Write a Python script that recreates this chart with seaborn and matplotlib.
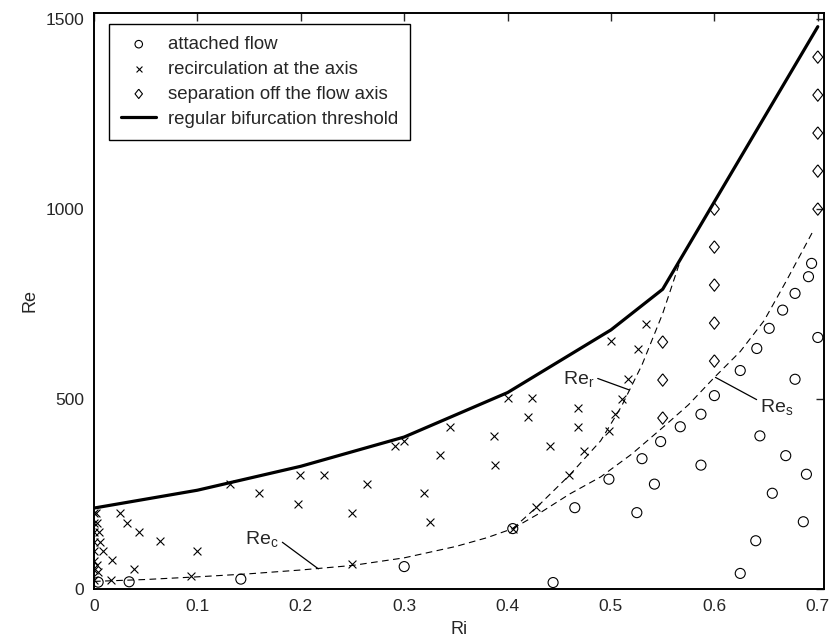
import numpy as np
import pandas as pd
import matplotlib
matplotlib.use("Agg")
import matplotlib.pyplot as plt
import seaborn as sns

# attached flow (circles)
attached_ri = [0.004, 0.034, 0.142, 0.300, 0.405, 0.444, 0.465, 0.498, 0.525, 0.530,
               0.542, 0.548, 0.567, 0.587, 0.587, 0.600, 0.625, 0.641, 0.653, 0.666,
               0.678, 0.691, 0.694, 0.700, 0.678, 0.644, 0.669, 0.689, 0.656, 0.686,
               0.640, 0.625]
attached_re = [18, 19, 26, 59, 159, 17, 214, 289, 201, 343,
               276, 388, 427, 460, 326, 509, 575, 633, 686, 734,
               778, 822, 857, 662, 552, 403, 351, 302, 252, 177,
               127, 41]

# recirculation at the axis (crosses)
recirc_ri = [0, 0, 0, 0, 0, 0, 0, 0,
             0.002, 0.003, 0.005, 0.006, 0.009, 0.004, 0.003,
             0.025, 0.032, 0.044, 0.064, 0.100, 0.017, 0.039, 0.016, 0.094,
             0.132, 0.160, 0.199, 0.222, 0.197, 0.264, 0.250, 0.291, 0.300,
             0.319, 0.325, 0.250, 0.400, 0.424, 0.420, 0.468, 0.468, 0.344,
             0.387, 0.335, 0.388, 0.441, 0.459, 0.427, 0.405, 0.474,
             0.500, 0.534, 0.526, 0.516, 0.511, 0.504, 0.498]
recirc_re = [25, 50, 75, 100, 125, 150, 175, 200,
             200, 175, 150, 125, 100, 45, 62,
             201, 175, 151, 126, 101, 76, 52, 25, 34,
             276, 252, 301, 301, 225, 276, 201, 376, 389,
             252, 176, 65, 502, 502, 452, 477, 427, 427,
             402, 352, 326, 376, 300, 217, 159, 363,
             653, 697, 631, 554, 500, 460, 416]

# separation off the flow axis (diamonds)
sep_ri = [0.55, 0.55, 0.55, 0.6, 0.6, 0.6, 0.6, 0.6, 0.7, 0.7, 0.7, 0.7, 0.7]
sep_re = [450, 550, 650, 600, 700, 800, 900, 1000, 1000, 1100, 1200, 1300, 1400]

# regular bifurcation threshold
thresh_ri = [0, 0.1, 0.2, 0.3, 0.4, 0.5, 0.55, 0.7]
thresh_re = [213, 260, 323, 400, 517, 682, 789, 1480]

# dashed curves Re_c, Re_r, Re_s
rec_ri = [0, 0.05, 0.1, 0.15, 0.2, 0.25, 0.3, 0.35, 0.38, 0.405]
rec_re = [20, 25, 32, 40, 50, 62, 82, 112, 135, 159]
rer_ri = [0.405, 0.43, 0.46, 0.49, 0.51, 0.53, 0.55, 0.568]
rer_re = [159, 220, 300, 390, 480, 590, 725, 872]
res_ri = [0.405, 0.43, 0.46, 0.49, 0.52, 0.55, 0.575, 0.6, 0.625, 0.648, 0.67, 0.696]
res_re = [159, 198, 250, 295, 355, 425, 485, 557, 625, 706, 813, 945]

xticks = [0, 0.1, 0.2, 0.3, 0.4, 0.5, 0.6, 0.7]
xtick_labels = ['0', '0.1', '0.2', '0.3', '0.4', '0.5', '0.6', '0.7']
yticks = [0, 500, 1000, 1500]

sns.set_style("white")
plt.rcParams['font.family'] = ['Liberation Sans', 'DejaVu Sans']
plt.rcParams['mathtext.default'] = 'regular'
plt.rcParams['font.size'] = 12

fig = plt.figure(figsize=(8.32, 6.4), dpi=100)
ax = fig.add_axes([94 / 832, 51 / 640, 730 / 832, 576 / 640])

diamond = [(0, 1), (0.8, 0), (0, -1), (-0.8, 0), (0, 1)]

sns.scatterplot(x=attached_ri, y=attached_re, marker='o', s=52, color='black',
                facecolor='none', edgecolor='black', linewidth=0.8,
                label='attached flow', ax=ax)
sns.scatterplot(x=recirc_ri, y=recirc_re, marker='x', s=32, color='black',
                linewidth=0.8, label='recirculation at the axis', ax=ax)
sns.scatterplot(x=sep_ri, y=sep_re, marker=diamond, s=80, color='black',
                facecolor='none', edgecolor='black', linewidth=0.8,
                label='separation off the flow axis', ax=ax)

sns.lineplot(x=thresh_ri, y=thresh_re, sort=False, estimator=None, color='black',
             linewidth=2.3, label='regular bifurcation threshold', ax=ax)
for cx, cy in [(rec_ri, rec_re), (rer_ri, rer_re), (res_ri, res_re)]:
    sns.lineplot(x=cx, y=cy, sort=False, estimator=None, color='black',
                 linewidth=0.8, linestyle=(0, (6, 4)), ax=ax)

arrow = dict(arrowstyle='-', color='black', linewidth=0.9, shrinkA=0, shrinkB=0)
ax.annotate(r'Re$_c$', xy=(0.217, 53), xytext=(0.179, 132), ha='right', va='center',
            fontsize=14, arrowprops=dict(arrow, relpos=(1, 0.45)))
ax.annotate(r'Re$_r$', xy=(0.5176, 524), xytext=(0.484, 552), ha='right', va='center',
            fontsize=14, arrowprops=dict(arrow, relpos=(1, 0.6)))
ax.annotate(r'Re$_s$', xy=(0.601, 557), xytext=(0.644, 478), ha='left', va='center',
            fontsize=14, arrowprops=dict(arrow, relpos=(0, 0.8)))

ax.set_xlim(0, 0.706)
ax.set_ylim(0, 1516)
ax.set_xticks(xticks)
ax.set_xticklabels(xtick_labels)
ax.set_yticks(yticks)
ax.tick_params(direction='in', top=True, right=True, length=6, width=1,
               labelsize=12.5, pad=7)
for sp in ax.spines.values():
    sp.set_visible(True)
    sp.set_color('black')
    sp.set_linewidth(1.4)
ax.set_xlabel('Ri', fontsize=13, labelpad=5)
ax.set_ylabel('Re', fontsize=13, labelpad=5)

leg = ax.legend(loc='upper left', bbox_to_anchor=(0.0205, 0.981), borderaxespad=0,
                frameon=True, fancybox=False, edgecolor='black', framealpha=1,
                fontsize=13.4, handlelength=1.9, handletextpad=0.6, labelspacing=0.42,
                borderpad=0.65, markerscale=0.75)
leg.get_frame().set_linewidth(1.0)

fig.savefig('out.png', dpi=100)
